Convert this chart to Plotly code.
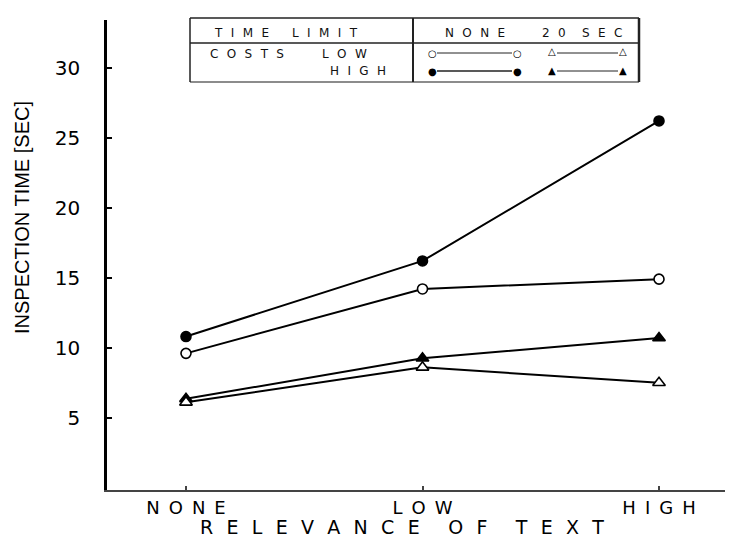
import plotly.graph_objects as go

# ---------------- data ----------------
categories = ["NONE", "LOW", "HIGH"]
cat_pos = [0, 1, 2]
low_cost_no_limit = [9.6, 14.2, 14.9]     # open circles
high_cost_no_limit = [10.8, 16.2, 26.2]   # filled circles
low_cost_20sec = [6.1, 8.6, 7.5]          # open triangles
high_cost_20sec = [6.35, 9.25, 10.7]      # filled triangles
y_ticks = [5, 10, 15, 20, 25, 30]

W, H = 730, 539
L, R, T, B = 107, 5, 20, 49
PW, PH = W - L - R, H - T - B

EN = "\u2002"
EM = "\u2003"
THIN = "\u2009"


def spaced(s, gap=EN, wordgap=EM + EN):
    return wordgap.join(gap.join(list(w)) for w in s.split(" "))


def px(x):
    return (x - L) / PW


def py(y):
    return (H - B - y) / PH


fig = go.Figure()

series = [
    (high_cost_no_limit, "circle", "black", 10),
    (low_cost_no_limit, "circle", "white", 10),
    (high_cost_20sec, "triangle-up", "black", 11),
    (low_cost_20sec, "triangle-up", "white", 11),
]
for vals, sym, fill, size in series:
    fig.add_trace(go.Scatter(
        x=cat_pos, y=vals, mode="lines+markers",
        line=dict(color="black", width=2),
        marker=dict(symbol=sym, size=size, color=fill,
                    line=dict(color="black", width=1.6)),
        showlegend=False, cliponaxis=False,
    ))

font_main = "DejaVu Sans"

fig.update_layout(
    width=W, height=H,
    margin=dict(l=L, r=R, t=T, b=B),
    paper_bgcolor="white", plot_bgcolor="white",
    xaxis=dict(
        range=[-0.334, 2.279], tickvals=cat_pos,
        ticktext=[spaced(c) for c in categories],
        showgrid=False, zeroline=False, showline=True,
        linecolor="#444", linewidth=2, ticks="inside", ticklen=4,
        tickcolor="#444", tickwidth=1.5,
        tickfont=dict(family=font_main, size=18, color="black"),
    ),
    yaxis=dict(
        range=[-0.16, 33.41], tickvals=y_ticks,
        ticktext=[str(v) for v in y_ticks],
        showgrid=False, zeroline=False, showline=True,
        linecolor="black", linewidth=2.5, ticks="inside", ticklen=5,
        tickcolor="black", tickwidth=1.5,
        tickfont=dict(family=font_main, size=20, color="black"),
        ticklabelstandoff=20,
    ),
)

annotations = [
    dict(x=px(402), y=py(527), text=spaced("RELEVANCE OF TEXT", EN + THIN, EM + EN),
         xanchor="center", yanchor="middle",
         font=dict(family=font_main, size=19, color="black")),
    dict(x=px(22), y=py(218), text="INSPECTION TIME [SEC]", textangle=-90,
         xanchor="center", yanchor="middle",
         font=dict(family="Liberation Sans", size=20, color="black")),
]

leg_font = dict(family=font_main, size=12, color="#111")
leg_gap = EN + THIN
leg_texts = [
    (212, 33, "TIME"),
    (290, 33, "LIMIT"),
    (208, 54, "COSTS"),
    (320, 54, "LOW"),
    (328, 71, "HIGH"),
    (443, 33, "NONE"),
    (540, 33, "20"),
    (580, 33, "SEC"),
]
for x, y, t in leg_texts:
    annotations.append(dict(x=px(x), y=py(y), text=spaced(t, leg_gap),
                            xanchor="left", yanchor="middle", font=leg_font))

glyphs = [
    (432, 53, "\u25CB"), (517, 53, "\u25CB"),
    (552, 52, "\u25B3"), (623, 52, "\u25B3"),
    (432, 71, "\u25CF"), (517, 71, "\u25CF"),
    (552, 70, "\u25B2"), (623, 70, "\u25B2"),
]
for x, y, g in glyphs:
    annotations.append(dict(x=px(x), y=py(y), text=g,
                            xanchor="center", yanchor="middle",
                            font=dict(family=font_main, size=10, color="black")))

for a in annotations:
    a.update(xref="paper", yref="paper", showarrow=False)

shapes = []


def hline(x0, x1, y, w=1.5, c="#222"):
    shapes.append(dict(type="line", xref="paper", yref="paper",
                       x0=px(x0), x1=px(x1), y0=py(y), y1=py(y),
                       line=dict(color=c, width=w)))


def vline(x, y0, y1, w=1.5, c="#222"):
    shapes.append(dict(type="line", xref="paper", yref="paper",
                       x0=px(x), x1=px(x), y0=py(y0), y1=py(y1),
                       line=dict(color=c, width=w)))


hline(190, 639, 18)
hline(190, 639, 43)
hline(190, 639, 82, c="#666")
vline(190, 18, 82)
vline(639, 18, 82, w=2.5)
vline(413, 18, 82, w=2)
# legend sample lines
hline(437, 512, 53, w=1)
hline(557, 618, 53, w=1)
hline(437, 512, 71, w=1.5)
hline(557, 618, 71, w=1)

fig.update_layout(annotations=annotations, shapes=shapes)

fig.write_html("out.html")
